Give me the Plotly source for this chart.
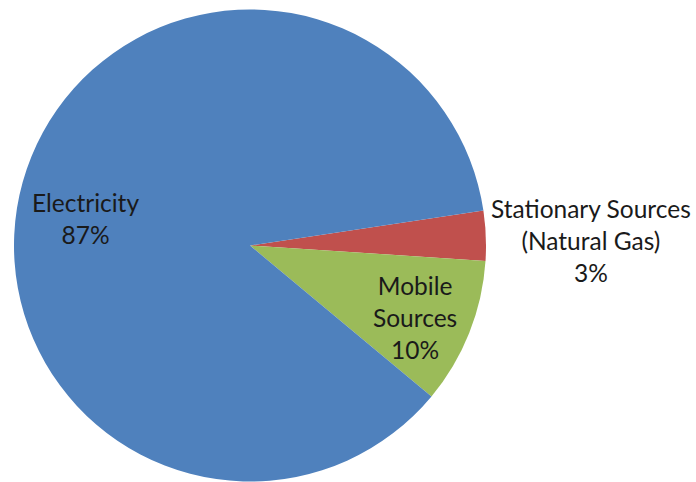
import plotly.graph_objects as go

categories = ["Stationary Sources (Natural Gas)", "Mobile Sources", "Electricity"]
label_lines = [["Stationary Sources", "(Natural Gas)"], ["Mobile", "Sources"], ["Electricity"]]
values = [3.4, 10.0, 86.6]
colors = ["#C0504D", "#9BBB59", "#4F81BD"]

W, H = 696, 482
cx, cy, r = 250, 245.5, 236

fig = go.Figure(go.Pie(
    labels=categories,
    values=values,
    sort=False,
    direction="clockwise",
    rotation=81.5,
    marker=dict(colors=colors, line=dict(width=0)),
    textinfo="none",
    hoverinfo="label+percent",
    showlegend=False,
    domain=dict(x=[(cx - r) / W, (cx + r) / W], y=[(H - cy - r) / H, (H - cy + r) / H]),
))

total = sum(values)
pcts = [round(v / total * 100) for v in values]
# label anchor positions (pixels, centre of text block)
label_pos = [(591, 240), (415, 317), (85, 219)]
for lines, p, (x, y) in zip(label_lines, pcts, label_pos):
    text = "<br>".join(lines + [f"{p}%"])
    fig.add_annotation(
        x=x / W, y=1 - y / H, xref="paper", yref="paper",
        text=text, showarrow=False, xanchor="center", yanchor="middle",
        font=dict(family="Lato", size=24.5, color="#1a1a1a"),
    )

fig.update_layout(
    width=W, height=H,
    margin=dict(l=0, r=0, t=0, b=0),
    paper_bgcolor="white",
    plot_bgcolor="white",
)
fig.write_html("out.html")
